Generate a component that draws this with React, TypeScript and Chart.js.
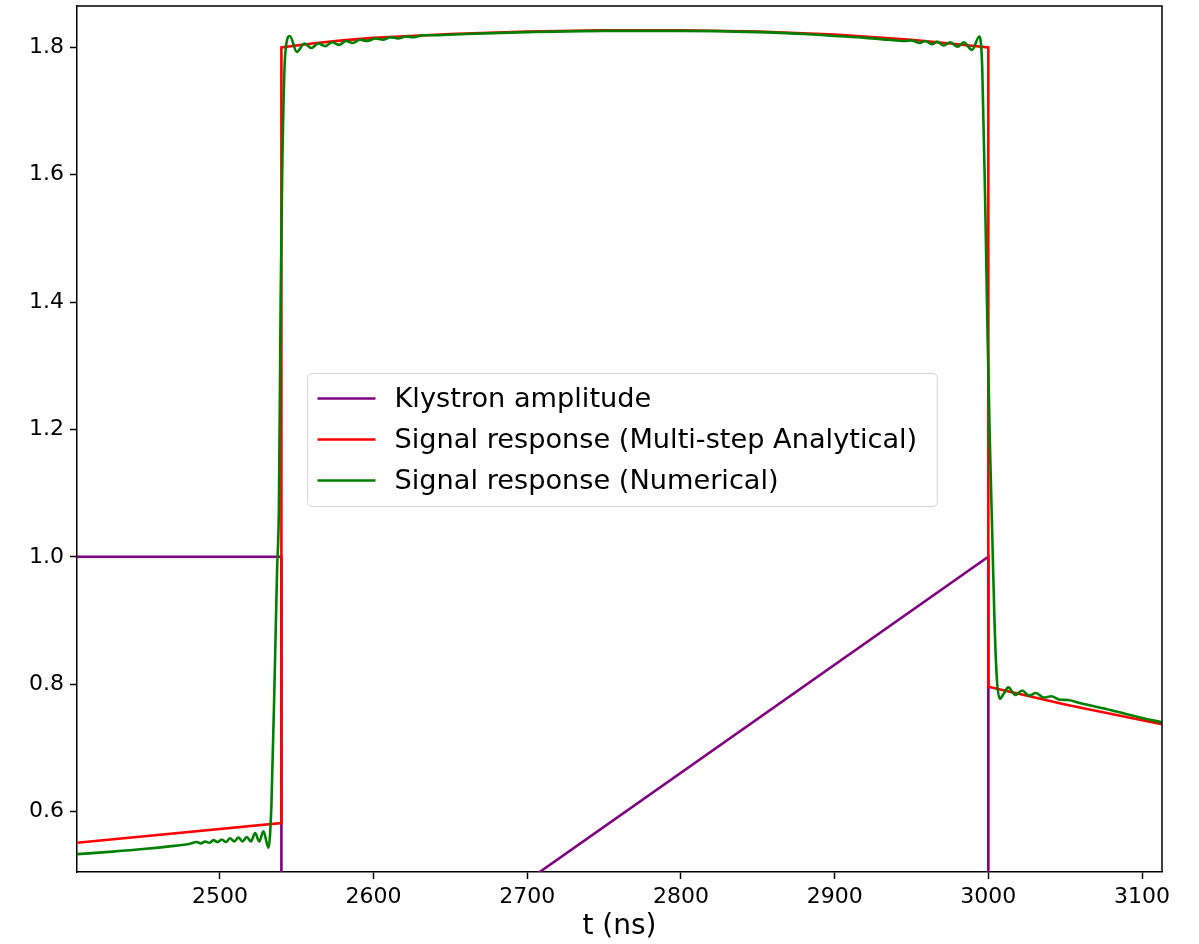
import React, { useEffect, useRef } from "react";
import { Chart, registerables } from "chart.js";

Chart.register(...registerables);

// ---- data ----
const klystronT = [2407, 2540, 2540, 3000, 3000, 3113];
const klystronY = [1.0, 1.0, 0.22, 1.0, 0.0, 0.0];

const analyticT = [2407, 2540, 2540, 2560, 2580, 2600, 2650, 2700, 2750, 2800, 2850, 2900, 2950, 2975, 3000, 3000, 3050, 3113];
const analyticY = [0.551, 0.582, 1.8, 1.806, 1.811, 1.815, 1.821, 1.825, 1.827, 1.827, 1.825, 1.82, 1.812, 1.806, 1.8, 0.796, 0.768, 0.737];

const numericT = [
  2407, 2430, 2450, 2470, 2480, 2485, 2487.7, 2490.4, 2493.1, 2495.8, 2498.5, 2501.2, 2503.9, 2506.6, 2509.3, 2512,
  2514.7, 2517.5, 2520.2, 2522.9, 2525.6, 2528.3, 2531.6, 2533.5, 2535.7, 2537.2, 2538.4, 2539.5, 2540.5, 2542.5,
  2545.5, 2550, 2555, 2559.5, 2564, 2568.5, 2573, 2577.5, 2582, 2586.5, 2591, 2596, 2601, 2606, 2611, 2616, 2621, 2626,
  2632, 2640, 2660, 2700, 2750, 2800, 2850, 2880, 2900, 2920, 2935, 2945, 2950, 2955, 2959, 2963.4, 2966.6, 2970.9,
  2975.3, 2980, 2984, 2989.4, 2994.1, 2996, 2998, 2999.5, 3001, 3002.5, 3004, 3005.5, 3007.5, 3010, 3013, 3017.5, 3022,
  3026.5, 3031, 3036, 3041, 3046, 3052, 3060, 3080, 3100, 3113,
];
const numericY = [
  0.533, 0.537, 0.541, 0.546, 0.549, 0.552, 0.55, 0.553, 0.551, 0.555, 0.552, 0.556, 0.552, 0.558, 0.553, 0.559,
  0.553, 0.56, 0.553, 0.566, 0.553, 0.569, 0.543, 0.61, 0.82, 0.98, 1.08, 1.4, 1.6, 1.79,
  1.818, 1.793, 1.806, 1.799, 1.806, 1.802, 1.808, 1.804, 1.81, 1.807, 1.812, 1.81, 1.814, 1.812, 1.816, 1.814, 1.817, 1.816,
  1.819, 1.819, 1.821, 1.824, 1.826, 1.826, 1.824, 1.821, 1.818, 1.815, 1.812, 1.81, 1.811, 1.807, 1.81, 1.805, 1.809, 1.803,
  1.808, 1.801, 1.808, 1.796, 1.817, 1.77, 1.55, 1.35, 1.18, 1.04, 0.9, 0.81, 0.777, 0.785, 0.795, 0.783, 0.79,
  0.782, 0.786, 0.779, 0.781, 0.776, 0.775, 0.77, 0.759, 0.747, 0.74,
];

const seriesLabels = [
  "Klystron amplitude",
  "Signal response (Multi-step Analytical)",
  "Signal response (Numerical)",
];

const xTicks = [2500, 2600, 2700, 2800, 2900, 3000, 3100];
const yTicks = [0.6, 0.8, 1.0, 1.2, 1.4, 1.6, 1.8];
const xRange = [2407, 3113];
const yRange = [0.505, 1.865];
const xTitle = "t (ns)";

// ---- styling ----
const FONT = "DejaVu Sans";
const COLORS = ["#800080", "#ff0000", "#008000"];

const toPoints = (t: number[], y: number[]) => t.map((v, i) => ({ x: v, y: y[i] }));

const framePlugin = {
  id: "frameAndLegend",
  afterDraw(chart: any) {
    const { ctx, chartArea } = chart;
    ctx.save();
    // top & right spines
    ctx.strokeStyle = "#000";
    ctx.lineWidth = 1.5;
    ctx.beginPath();
    ctx.moveTo(chartArea.left, chartArea.top);
    ctx.lineTo(chartArea.right, chartArea.top);
    ctx.lineTo(chartArea.right, chartArea.bottom);
    ctx.stroke();

    // legend
    ctx.font = `27.2px "${FONT}"`;
    const ds = chart.data.datasets;
    const textW = Math.max(...ds.map((d: any) => ctx.measureText(d.label).width));
    const padL = 10, handle = 58, gap = 19, padR = 20, rowH = 41;
    const w = padL + handle + gap + textW + padR;
    const h = 133;
    const cx = (chartArea.left + chartArea.right) / 2 + 2;
    const cy = (chartArea.top + chartArea.bottom) / 2;
    const x0 = Math.round(cx - w / 2) + 0.5;
    const y0 = Math.round(cy - h / 2) + 0.5;
    const r = 5;
    ctx.beginPath();
    ctx.moveTo(x0 + r, y0);
    ctx.lineTo(x0 + w - r, y0);
    ctx.quadraticCurveTo(x0 + w, y0, x0 + w, y0 + r);
    ctx.lineTo(x0 + w, y0 + h - r);
    ctx.quadraticCurveTo(x0 + w, y0 + h, x0 + w - r, y0 + h);
    ctx.lineTo(x0 + r, y0 + h);
    ctx.quadraticCurveTo(x0, y0 + h, x0, y0 + h - r);
    ctx.lineTo(x0, y0 + r);
    ctx.quadraticCurveTo(x0, y0, x0 + r, y0);
    ctx.closePath();
    ctx.fillStyle = "rgba(255,255,255,0.8)";
    ctx.fill();
    ctx.strokeStyle = "#d6d6d6";
    ctx.lineWidth = 1;
    ctx.stroke();

    ds.forEach((d: any, i: number) => {
      const y = y0 + 25 + i * rowH;
      ctx.strokeStyle = d.borderColor;
      ctx.lineWidth = 2.6;
      ctx.beginPath();
      ctx.moveTo(x0 + padL, y);
      ctx.lineTo(x0 + padL + handle, y);
      ctx.stroke();
      ctx.fillStyle = "#000";
      ctx.textBaseline = "middle";
      ctx.textAlign = "left";
      ctx.fillText(d.label, x0 + padL + handle + gap, y + 1);
    });
    ctx.restore();
  },
};

export default function App() {
  const ref = useRef<HTMLCanvasElement | null>(null);

  useEffect(() => {
    document.body.style.margin = "0";
    const canvas = ref.current;
    if (!canvas) return;
    const series = [
      { t: klystronT, y: klystronY, smooth: false },
      { t: analyticT, y: analyticY, smooth: false },
      { t: numericT, y: numericY, smooth: true },
    ];
    const chart = new Chart(canvas, {
      type: "line",
      data: {
        datasets: series.map((s, i) => ({
          label: seriesLabels[i],
          data: toPoints(s.t, s.y),
          borderColor: COLORS[i],
          backgroundColor: COLORS[i],
          borderWidth: 2.6,
          pointRadius: 0,
          tension: 0,
          cubicInterpolationMode: s.smooth ? "monotone" : "default",
          fill: false,
          clip: 0,
          order: 2 - i,
        })),
      },
      options: {
        animation: false,
        responsive: false,
        devicePixelRatio: 1,
        layout: { padding: { left: 0, top: 6, right: 37, bottom: 0 } },
        plugins: { legend: { display: false }, tooltip: { enabled: false } },
        scales: {
          x: {
            type: "linear",
            min: xRange[0],
            max: xRange[1],
            afterBuildTicks: (scale: any) => {
              scale.ticks = xTicks.map((v) => ({ value: v }));
            },
            afterFit: (scale: any) => {
              scale.height = 72;
              scale.paddingLeft = 0;
              scale.paddingRight = 0;
            },
            ticks: {
              autoSkip: false,
              maxRotation: 0,
              color: "#000",
              padding: 5,
              font: { family: FONT, size: 22 },
              callback: (v: any) => String(v),
            },
            grid: {
              drawOnChartArea: false,
              drawTicks: true,
              tickLength: 7,
              tickWidth: 1.5,
              tickColor: "#000",
            },
            border: { display: true, color: "#000", width: 1.5 },
            title: {
              display: true,
              text: xTitle,
              color: "#000",
              font: { family: FONT, size: 28 },
              padding: { top: 0, bottom: 0 },
            },
          },
          y: {
            type: "linear",
            min: yRange[0],
            max: yRange[1],
            afterBuildTicks: (scale: any) => {
              scale.ticks = yTicks.map((v) => ({ value: v }));
            },
            afterFit: (scale: any) => {
              scale.width = 77;
              scale.paddingTop = 0;
              scale.paddingBottom = 0;
            },
            ticks: {
              color: "#000",
              padding: 6,
              font: { family: FONT, size: 22 },
              callback: (v: any) => Number(v).toFixed(1),
            },
            grid: {
              drawOnChartArea: false,
              drawTicks: true,
              tickLength: 7,
              tickWidth: 1.5,
              tickColor: "#000",
            },
            border: { display: true, color: "#000", width: 1.5 },
          },
        },
      },
      plugins: [framePlugin],
    });
    return () => chart.destroy();
  }, []);

  return <canvas ref={ref} width={1199} height={944} style={{ display: "block", width: 1199, height: 944 }} />;
}
